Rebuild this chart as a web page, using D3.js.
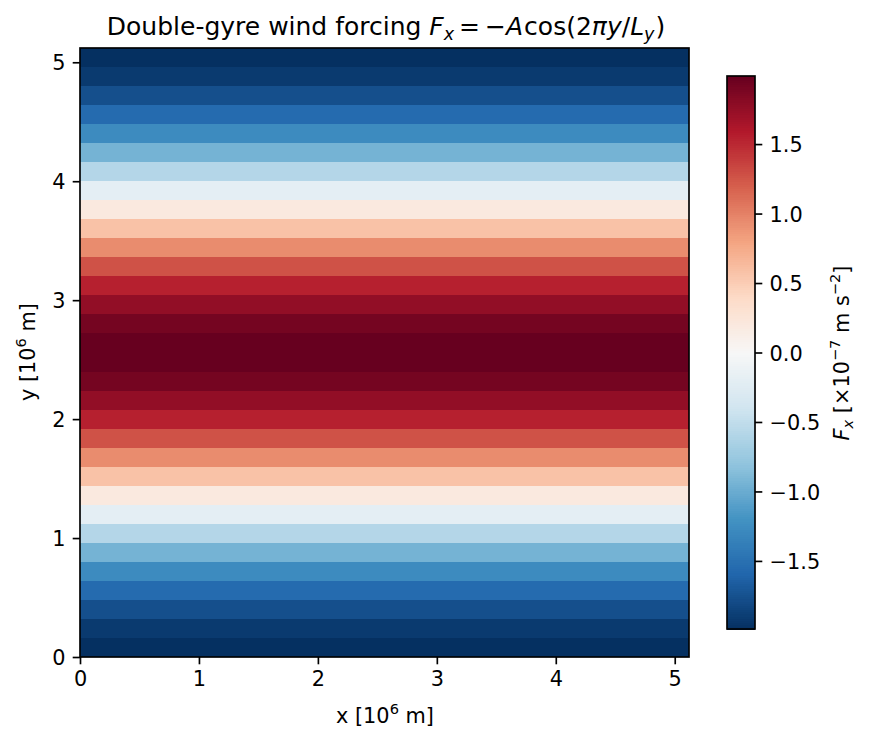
<!DOCTYPE html>
<html><head><meta charset="utf-8">
<script src="https://cdn.jsdelivr.net/npm/d3@7"></script>
<style>html,body{margin:0;padding:0;background:#fff}svg{display:block}text{font-family:"DejaVu Sans";fill:#000}</style>
</head><body><svg id="c" width="872" height="743"></svg>
<script>
// Forcing per grid row, bottom (y=0) to top, in 1e-7 m s^-2
const rowValues = [-1.990,-1.914,-1.764,-1.546,-1.269,-0.943,-0.581,-0.196,0.196,0.581,0.943,1.269,1.546,1.764,1.914,1.990,
                   1.990,1.914,1.764,1.546,1.269,0.943,0.581,0.196,-0.196,-0.581,-0.943,-1.269,-1.546,-1.764,-1.914,-1.990];
const domainMax = 5.12;
const axisTicks = [0,1,2,3,4,5];
const cbarTicks = [-1.5,-1,-0.5,0,0.5,1,1.5];
const cbarRange = [-1.99,1.99];
const rdbuStops = ["#053061","#2166ac","#4393c3","#92c5de","#d1e5f0","#f7f7f7","#fddbc7","#f4a582","#d6604d","#b2182b","#67001f"];
const titleParts = [{t:"Double-gyre wind forcing "},{t:"F",i:1},{t:"x",i:1,sub:1},{t:"=",dx:5},{t:"−",dx:5},{t:"A",i:1},{t:"cos(2",dx:1},{t:"πy",i:1},{t:"/"},{t:"L",i:1},{t:"y",i:1,sub:1},{t:")",dx:1}];
const xlabelParts = [{t:"x [10"},{t:"6",sup:1},{t:" m]"}];
const ylabelParts = [{t:"y [10"},{t:"6",sup:1},{t:" m]"}];
const cbarLabelParts = [{t:"F",i:1},{t:"x",i:1,sub:1},{t:" [×10"},{t:"−7",sup:1},{t:" m s"},{t:"−2",sup:1},{t:"]"}];

const svg = d3.select("#c");
const L=80,R=689,T=48,B=657, CL=727,CR=755,CT=76,CB=629;
const tickFs=20.83, tickLen=7.3, lw=1.67;
const x=d3.scaleLinear().domain([0,domainMax]).range([L,R]);
const y=d3.scaleLinear().domain([0,domainMax]).range([B,T]);
const band=d3.scaleBand().domain(d3.range(rowValues.length)).range([B,T]);
const color=d3.scaleLinear().domain(rdbuStops.map((_,i)=>cbarRange[0]+(cbarRange[1]-cbarRange[0])*i/10)).range(rdbuStops).interpolate(d3.interpolateRgb);

svg.append("g").selectAll("rect").data(rowValues).join("rect")
  .attr("x",x(0)).attr("width",x(domainMax)-x(0))
  .attr("y",(d,i)=>band(i)).attr("height",band.bandwidth())
  .attr("fill",d=>color(d)).attr("shape-rendering","crispEdges");

function styleAxis(g){
  g.select(".domain").remove();
  g.selectAll(".tick line").attr("stroke","#000").attr("stroke-width",lw);
  g.selectAll(".tick text").attr("font-family","DejaVu Sans").attr("font-size",tickFs).attr("fill","#000");
}
function vShift(g){ g.selectAll(".tick text").attr("dy","0.37em"); }
const fmt0=d3.format("d");
svg.append("g").attr("transform",`translate(0,${B})`).call(d3.axisBottom(x).tickValues(axisTicks).tickFormat(fmt0).tickSize(tickLen).tickPadding(7.3)).call(styleAxis);
svg.append("g").attr("transform",`translate(${L},0)`).call(d3.axisLeft(y).tickValues(axisTicks).tickFormat(fmt0).tickSize(tickLen).tickPadding(7.3)).call(styleAxis).call(vShift);
svg.append("rect").attr("x",L).attr("y",T).attr("width",R-L).attr("height",B-T).attr("fill","none").attr("stroke","#000").attr("stroke-width",lw);

// colorbar: 256 levels
const cy=d3.scaleLinear().domain(cbarRange).range([CB,CT]);
const levels=d3.range(256).map(i=>cbarRange[0]+(cbarRange[1]-cbarRange[0])*i/256);
const step=(cbarRange[1]-cbarRange[0])/256;
svg.append("g").selectAll("rect").data(levels).join("rect")
  .attr("x",CL).attr("width",CR-CL)
  .attr("y",d=>cy(d+step)).attr("height",d=>cy(d)-cy(d+step)+0.6)
  .attr("fill",d=>color(d+step/2)).attr("shape-rendering","crispEdges");
svg.append("rect").attr("x",CL).attr("y",CT).attr("width",CR-CL).attr("height",CB-CT).attr("fill","none").attr("stroke","#000").attr("stroke-width",lw);
svg.append("g").attr("transform",`translate(${CR},0)`).call(d3.axisRight(cy).tickValues(cbarTicks).tickFormat(d=>d3.format(".1f")(d).replace("-","−")).tickSize(tickLen).tickPadding(7.3)).call(styleAxis).call(vShift);

function rich(parts,opts){
  const t=svg.append("text").attr("font-size",opts.fs).attr("text-anchor",opts.anchor||"middle")
    .attr("transform",`translate(${opts.x},${opts.y})`+(opts.rot?` rotate(${opts.rot})`:""));
  let prev=0;
  parts.forEach(p=>{
    const cur=p.sub?opts.fs*0.2:p.sup?-opts.fs*0.42:0;
    const s=t.append("tspan").text(p.t).attr("dy",cur-prev);
    if(p.dx)s.attr("dx",p.dx);
    if(p.i)s.attr("font-style","italic");
    if(p.sub||p.sup)s.attr("font-size",opts.fs*0.7);
    s.style("white-space","pre").attr("xml:space","preserve");
    prev=cur;
  });
  t.attr("xml:space","preserve");
}
rich(titleParts,{fs:25,x:386,y:35});
rich(xlabelParts,{fs:20.83,x:385,y:723});
rich(ylabelParts,{fs:20.83,x:35,y:352,rot:-90});
rich(cbarLabelParts,{fs:20.83,x:849,y:353,rot:-90});
</script></body></html>
